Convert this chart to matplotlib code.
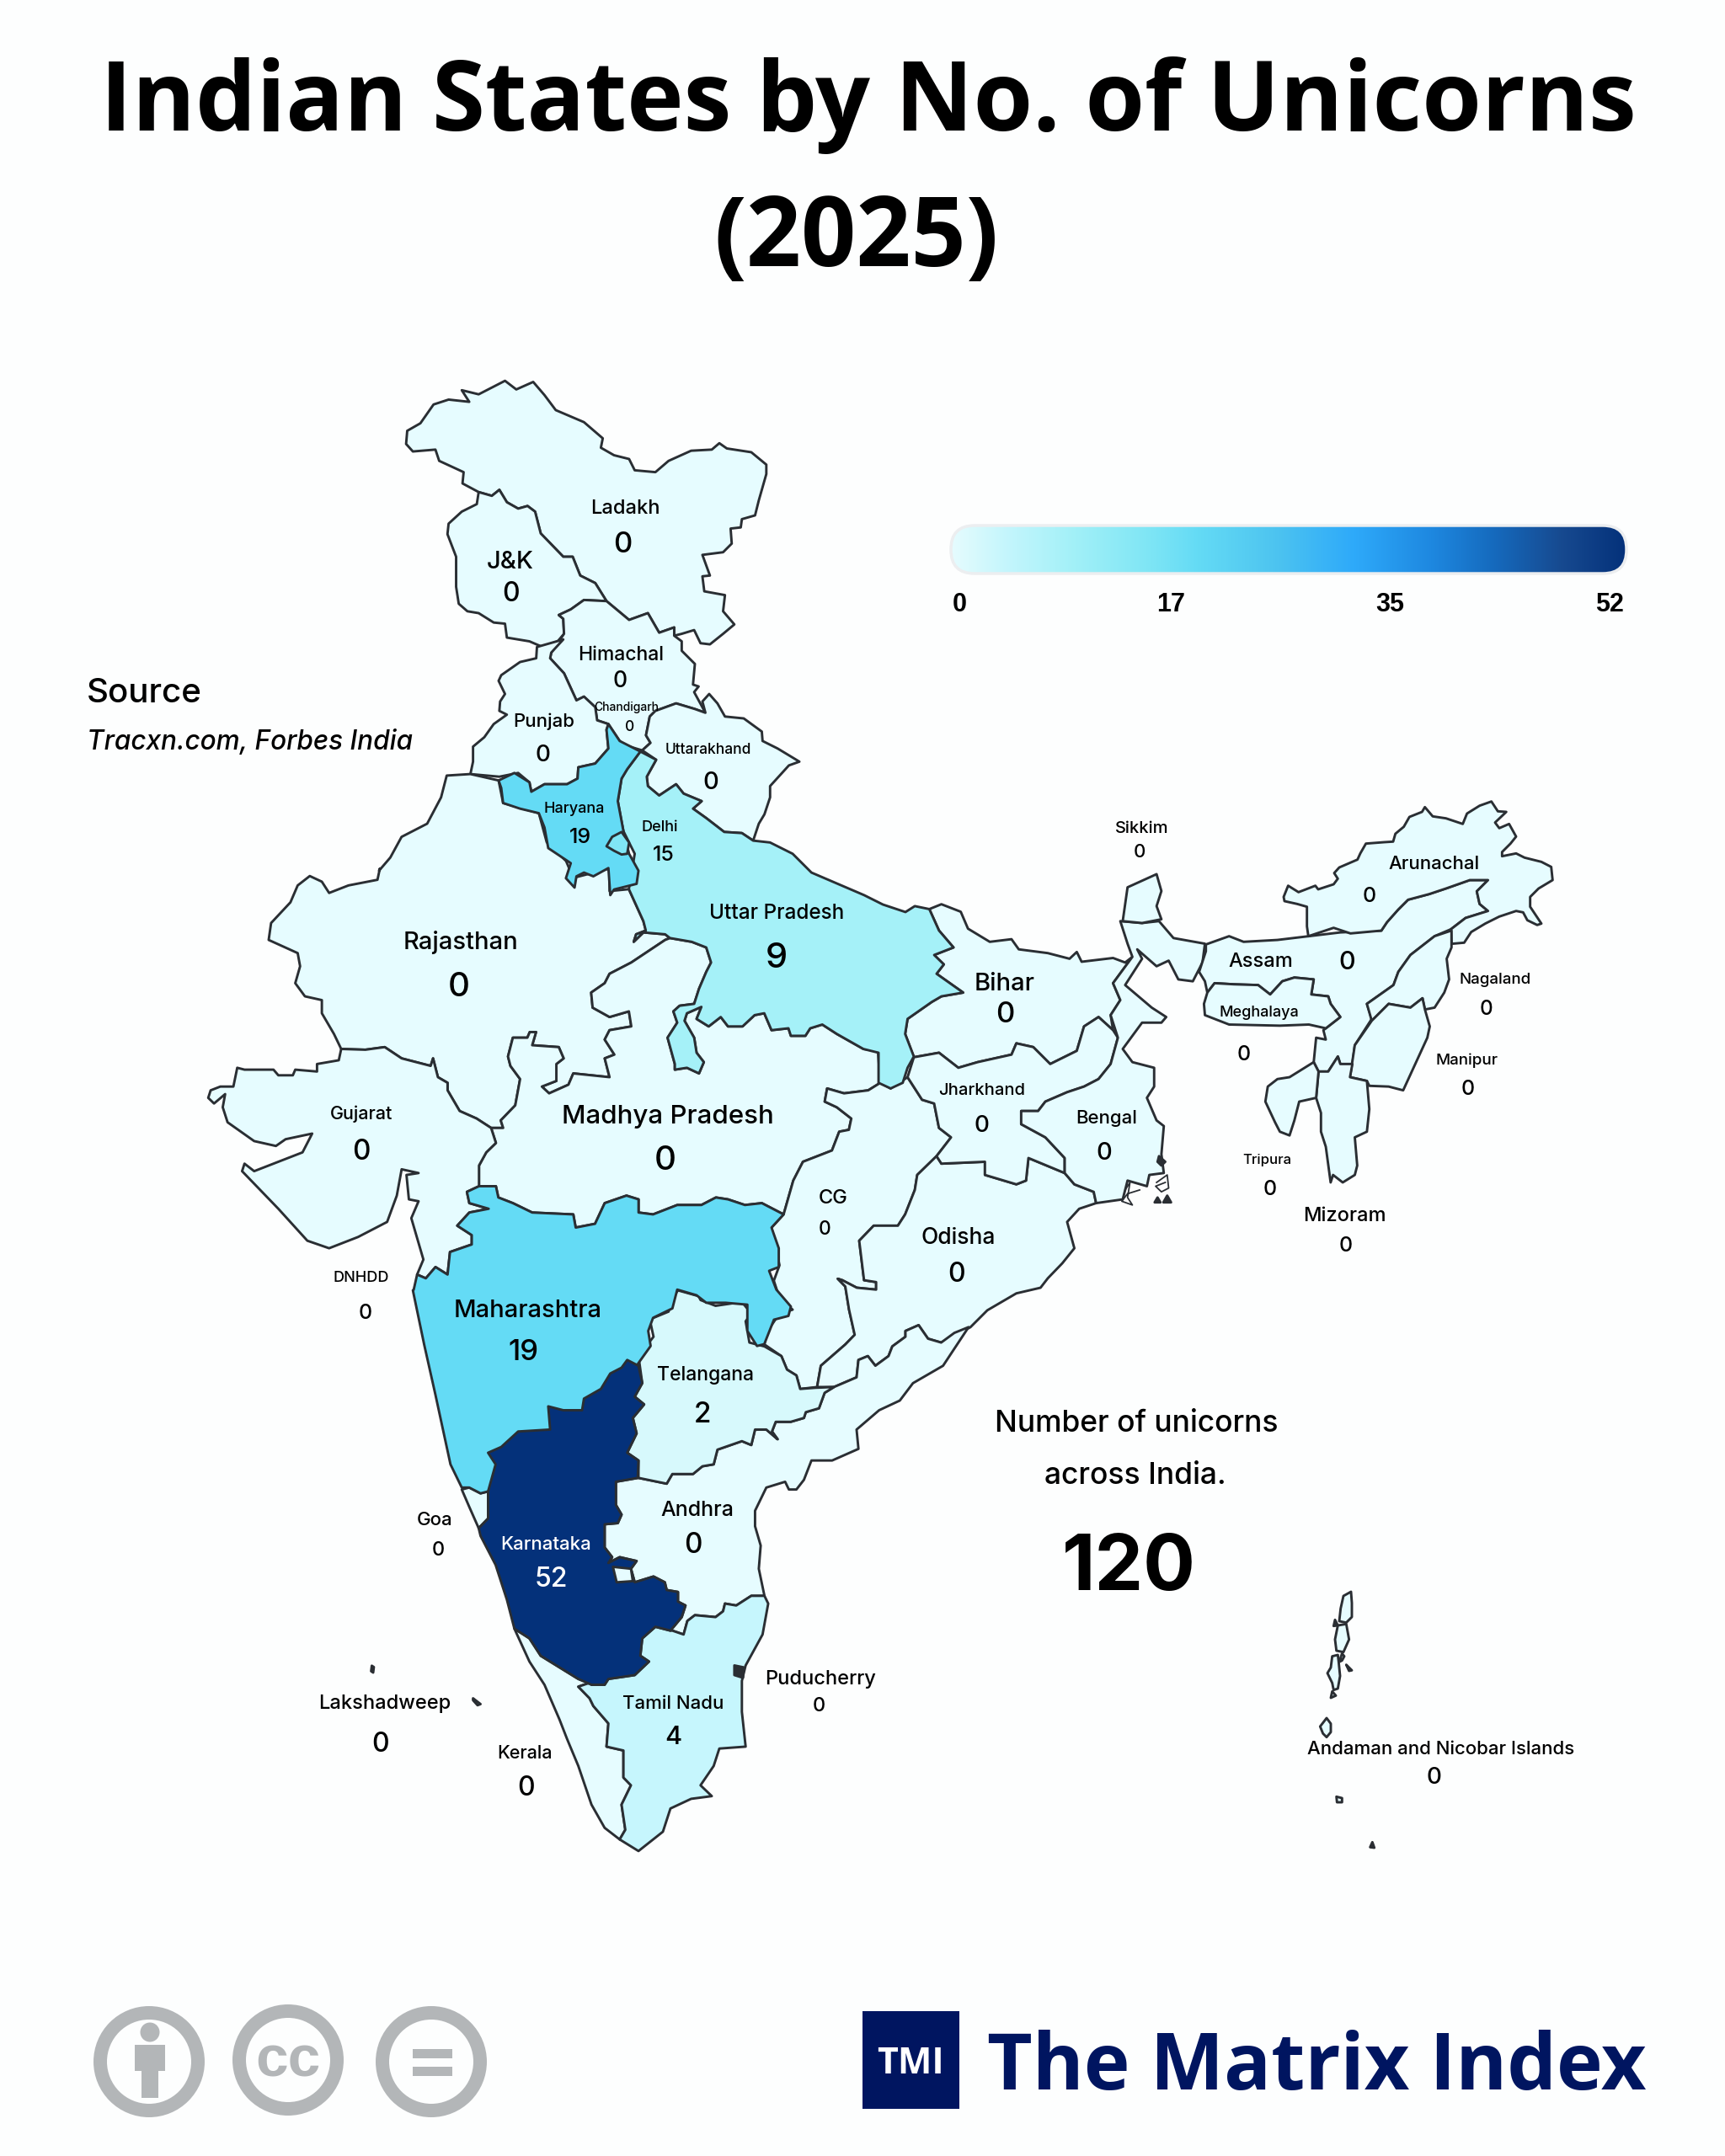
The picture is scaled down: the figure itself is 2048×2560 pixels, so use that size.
import numpy as np
import matplotlib
matplotlib.use("Agg")
import matplotlib.pyplot as plt
from matplotlib.patches import Polygon, Circle, Rectangle, FancyBboxPatch
from matplotlib.colors import LinearSegmentedColormap, Normalize

# ---- reference frames in which outlines were read ----
def frame(x0, y0, sx, sy):
    return lambda pts: [(x0 + x / sx, y0 + y / sy) for x, y in pts]
Z1 = frame(450, 420, 2.24, 2.24)
Z2 = frame(230, 1000, 1.742, 2.24)
Z3 = frame(1000, 1000, 1.742, 2.24)
Z4 = frame(450, 1500, 2.24, 2.178)
Z7 = frame(1500, 930, 3, 3)
Z8 = frame(1530, 1870, 3, 3)
Ov = frame(0, 0, 1255 / 2048, 1255 / 2048)

# ---- data ----
title_lines = ["Indian States by No. of Unicorns", "(2025)"]
states = ["Ladakh","J&K","Himachal","Chandigarh","Punjab","Uttarakhand","Haryana","Delhi","Sikkim","Arunachal",
          "Uttar Pradesh","Rajasthan","Assam","Nagaland","Bihar","Meghalaya","Manipur","Jharkhand","Gujarat","Bengal",
          "Madhya Pradesh","Tripura","CG","Mizoram","Odisha","DNHDD","Maharashtra","Telangana","Andhra","Goa",
          "Karnataka","Puducherry","Tamil Nadu","Lakshadweep","Kerala","Andaman and Nicobar Islands"]
unicorns = [0,0,0,0,0,0,19,15,0,0,9,0,0,0,0,0,0,0,0,0,0,0,0,0,0,0,19,2,0,0,52,0,4,0,0,0]
total_unicorns = 120
scale_ticks = [0, 17, 35, 52]
scale_stops = [(0,"#E6FCFF"),(2,"#D6F9FC"),(4,"#C6F6FD"),(9,"#A5F1F8"),(15,"#80E6F5"),(19,"#64DBF5"),
               (25,"#4DC4F0"),(31,"#2EAAFA"),(37,"#1E88E0"),(42,"#1569BC"),(47,"#174A90"),(52,"#04317A")]

name_xy = [(455,368),(371,407),(452,475),(456,513),(396,523),(515,544),(418,587),(480,600),(831,601),(1043,627),
           (565,663),(335,684),(917,698),(1088,711),(731,714),(916,735),(1067,770),(714,792),(263,809),(805,812),
           (486,811),(922,842),(606,870),(978,883),(697,899),(263,928),(384,952),(513,999),(507,1097),(316,1104),
           (397,1122),(597,1220),(490,1238),(280,1238),(382,1274),(1048,1271)]
name_pt = [17,21,16.5,10,16,12.5,13,13,14.5,16,
           17.5,21,17,13.5,21,13,13.5,14.5,15.5,16,
           22.5,12,17,17,19,13,21,16.5,18,16,
           16,17,16,17,15.5,16]
value_xy = [(453,394),(372,430),(451,493),(458,527),(395,547),(517,567),(422,607),(483,620),(829,618),(996,650),
            (565,695),(334,716),(980,698),(1081,732),(731,736),(905,765),(1068,790),(714,817),(263,836),(803,837),
            (484,842),(924,863),(600,892),(979,904),(696,925),(266,953),(381,982),(511,1027),(504,1122),(319,1126),
            (401,1147),(596,1239),(490,1262),(277,1267),(383,1299),(1043,1291)]
value_pt = [25,23,19,12.5,20,21,18,18,16,18,
            30,29,22,17.5,25,18,18,20,24,21,
            29,18,16.5,18,23,18,25,24,24,17,
            23,17,22,23,23,20]

# ---- state outlines ----
ladakh = Z1([(75,205),(110,185),(145,135),(185,122),(240,128),(220,97),(265,108),(335,72),(365,95),(410,75),(440,110),(470,150),(545,182),(595,225),(590,250),(625,270),(665,280),(680,310),(735,315),(770,285),(830,258),(885,255),(905,238),(925,252),(990,262),(1030,295),(1030,320),(1010,390),(1000,430),(965,440),(962,462),(935,465),(938,505),(915,528),(860,535),(880,590),(860,592),(865,632),(920,642),(915,685),(945,720),(915,745),(880,773),(855,770),(838,735),(805,745),(785,750),(785,728),(745,742),(715,690),(665,708),(605,658),(575,610),(535,590),(515,540),(490,540),(430,478),(415,420),(395,405),(370,412),(340,395),(320,362),(300,378),(265,368),(222,345),(225,315),(160,285),(150,255),(90,260),(72,240)])
jk = Z1([(265,368),(260,400),(220,420),(185,452),(182,480),(205,540),(205,620),(212,665),(235,685),(265,690),(305,715),(335,718),(340,755),(400,765),(435,780),(475,765),(492,745),(490,705),(478,695),(510,680),(545,655),(605,658),(575,610),(535,590),(515,540),(490,540),(430,478),(415,420),(395,405),(370,412),(340,395),(320,362),(300,378)])
himachal = Z1([(492,745),(490,705),(478,695),(510,680),(545,655),(605,658),(665,708),(715,690),(745,742),(785,728),(785,750),(805,765),(805,790),(840,825),(835,880),(850,885),(838,900),(868,955),(840,945),(790,930),(735,950),(720,965),(710,1015),(722,1035),(700,1055),(650,1040),(640,1030),(610,985),(580,975),(575,940),(545,912),(525,922),(492,850),(455,810),(458,795)])
uttarakhand = Z1([(700,1055),(722,1035),(710,1015),(720,965),(735,950),(790,930),(840,945),(868,955),(860,925),(878,905),(900,930),(920,965),(970,970),(1018,1005),(1020,1030),(1060,1050),(1118,1085),(1090,1095),(1040,1150),(1040,1180),(1025,1225),(1010,1250),(995,1295),(965,1275),(918,1272),(870,1235),(835,1210),(858,1190),(810,1170),(790,1145),(745,1175),(715,1150),(712,1125),(737,1080)])
punjab = Z1([(420,780),(418,810),(375,820),(325,855),(318,870),(335,905),(322,925),(320,950),(340,960),(305,985),(280,1020),(250,1045),(250,1085),(243,1118),(320,1125),(370,1115),(400,1140),(405,1165),(440,1145),(500,1145),(528,1130),(530,1100),(575,1090),(610,1050),(605,1000),(610,985),(580,975),(575,940),(545,912),(525,922),(492,850),(455,810),(458,795),(490,760)])
haryana = Z1([(610,985),(640,1030),(695,1058),(660,1105),(645,1130),(635,1190),(650,1270),(665,1330),(690,1375),(685,1410),(625,1425),(615,1440),(610,1368),(570,1390),(545,1380),(525,1390),(520,1420),(497,1395),(510,1355),(450,1315),(440,1260),(425,1222),(375,1210),(330,1195),(325,1155),(318,1135),(360,1115),(400,1140),(405,1165),(440,1145),(500,1145),(528,1130),(530,1100),(575,1090),(610,1050),(605,1000)])
delhi = Z1([(605,1310),(620,1285),(645,1272),(665,1300),(660,1330),(645,1332),(625,1322)])
up = (Z1([(695,1058),(737,1080),(712,1125),(715,1150),(745,1175),(790,1145),(810,1170),(858,1190),(835,1210),(870,1235),(918,1272),(965,1275),(995,1295),(1040,1300),(1100,1330),(1150,1380),(1220,1410),(1290,1440),(1340,1465),(1400,1485)])
      + Z3([(150,170),(180,178),(200,235),(230,280),(190,300),(210,325),(195,350),(250,400),(205,410),(185,425),(135,470),(130,510),(148,570),(135,600),(125,640),(100,655),(75,640),(75,560)])
      + Z2([(1385,550),(1330,510),(1300,485),(1275,495),(1265,515),(1235,515),(1230,495),(1195,500),(1180,455),(1160,460),(1135,490),(1105,490),(1090,465),(1065,490),(1040,470),(1050,438),(1020,455),(1015,475),(1035,520),(1040,560),(1055,585),(1045,615),(1020,600),(995,605),(995,590),(980,520),(1000,480),(992,450),(1005,435),(1035,430),(1045,390),(1060,345),(1070,320),(1060,280),(1030,265),(985,255),(975,245),(930,240),(910,265),(915,245),(935,235),(930,210),(900,125)])
      + Z1([(680,1330),(650,1270),(635,1190),(645,1130),(660,1105)]))
rajasthan = (Z1([(243,1118),(180,1122),(165,1180),(128,1250),(60,1285),(30,1340),(0,1375)])
      + Z2([(385,70),(380,100),(320,115),(280,135),(265,105),(240,90),(215,115),(200,160),(160,215),(155,260),(215,295),(220,330),(210,375),(230,410),(265,420),(265,455),(290,510),(305,550),(355,552),(395,545),(430,575),(490,595),(495,575),(505,625),(525,640),(525,660),(550,715),(585,735),(615,760),(640,760),(635,740),(665,700),(675,630),(655,595),(650,570),(660,520),(690,520),(695,505),(708,505),(700,540),(755,545),(765,575),(750,590),(750,635),(720,650),(735,668),(775,645),(785,615),(860,625),(850,575),(870,565),(850,525),(860,500),(905,490),(900,450),(860,465),(825,440),(822,400),(850,375),(860,350),(905,320),(975,260),(985,255),(975,245),(930,240),(910,265),(915,245),(935,235),(930,210),(900,125),(860,130),(860,70),(785,95),(770,50),(730,0)])
      + Z1([(425,1222),(330,1195),(318,1135)]))
mp = Z2([(985,255),(1030,265),(1060,280),(1070,320),(1060,345),(1045,390),(1035,430),(1005,435),(992,450),(1000,480),(980,520),(995,590),(995,605),(1020,600),(1045,615),(1055,585),(1040,560),(1035,520),(1015,475),(1020,455),(1050,438),(1040,470),(1065,490),(1090,465),(1105,490),(1135,490),(1160,460),(1180,455),(1195,500),(1230,495),(1235,515),(1265,515),(1275,495),(1300,485),(1330,510),(1385,550),(1415,555),(1420,640),(1395,660),(1345,668),(1310,655),(1305,690),(1330,705),(1360,735),(1355,765),(1335,770),(1320,820),(1260,850),(1240,900),(1220,990),(1175,960),(1140,965),(1105,950),(1080,945),(1050,965),(1000,965),(950,990),(920,985),(920,950),(895,940),(850,960),(830,1015),(790,1025),(785,990),(700,985),(660,960),(630,945),(625,915),(590,915),(590,860),(605,825),(625,800),(615,760),(640,760),(635,740),(665,700),(675,630),(655,595),(650,570),(660,520),(690,520),(695,505),(708,505),(700,540),(755,545),(765,575),(750,590),(750,635),(720,650),(735,668),(775,645),(785,615),(860,625),(850,575),(870,565),(850,525),(860,500),(905,490),(900,450),(860,465),(825,440),(822,400),(850,375),(860,350),(905,320),(975,260)])
gujarat = Z2([(305,550),(300,580),(255,590),(255,610),(210,605),(205,620),(175,620),(165,605),(105,605),(90,600),(82,650),(55,650),(35,660),(30,680),(42,695),(65,670),(60,705),(70,745),(125,795),(170,808),(190,790),(245,775),(225,825),(215,830),(175,850),(125,875),(105,855),(100,875),(175,975),(235,1060),(280,1080),(340,1050),(400,1010),(420,940),(430,870),(465,880),(440,885),(445,950),(465,955),(450,1000),(475,1110),(462,1150),(480,1160),(500,1130),(525,1150),(530,1090),(575,1070),(575,1045),(545,1020),(570,985),(610,975),(570,960),(565,930),(590,915),(590,860),(605,825),(625,800),(615,760),(585,735),(550,715),(525,660),(525,640),(505,625),(495,575),(490,595),(430,575),(395,545),(355,552)])
maharashtra = (Z2([(590,915),(625,915),(630,945),(660,960),(700,985),(785,990),(790,1025),(830,1015),(850,960),(895,940),(920,950),(920,985),(950,990),(1000,965),(1050,965),(1080,945),(1105,950),(1140,965),(1175,960),(1220,990),(1195,1025),(1210,1080),(1210,1130),(1190,1140),(1205,1190),(1235,1235),(1230,1260),(1200,1270),(1180,1335),(1165,1340),(1145,1300),(1145,1230),(1100,1225),(1060,1225),(1040,1205),(1000,1190),(990,1240),(950,1265),(940,1300),(945,1340),(920,1385)])
      + Z4([(600,400),(400,560),(290,590),(270,595),(240,580),(220,580),(190,520),(150,340),(120,210),(90,70)])
      + Z2([(455,1190),(462,1150),(480,1160),(500,1130),(525,1150),(530,1090),(575,1070),(575,1045),(545,1020),(570,985),(610,975),(570,960),(565,930)]))
karnataka = Z4([(660,250),(690,265),(700,310),(680,345),(705,365),(675,400),(685,440),(660,490),(690,510),(688,555),(630,565),(630,625),(645,650),(635,672),(600,675),(600,735),(620,760),(610,775),(640,760),(685,770),(670,790),(680,825),(730,810),(760,825),(765,845),(795,850),(795,875),(815,885),(805,915),(775,950),(735,940),(700,970),(695,1015),(718,1030),(680,1065),(610,1075),(600,1090),(565,1090),(530,1075),(480,1045),(430,1015),(400,970),(360,945),(340,870),(310,780),(270,705),(265,685),(290,660),(290,590),(310,520),(290,490),(325,475),(370,435),(455,430),(450,370),(490,380),(540,380),(545,350),(590,325),(615,285),(645,270)])
karnataka_hole = Z4([(622,785),(670,790),(675,822),(632,825)])
goa = Z4([(220,585),(240,580),(270,595),(290,590),(290,660),(265,685),(240,630)])
telangana = Z4([(795,70),(850,85),(855,95),(895,110),(965,100),(990,130),(975,150),(985,205),(1025,215),(1070,240),(1085,275),(1110,290),(1120,325),(1160,322),(1210,320),(1185,335),(1170,375),(1135,385),(1130,400),(1095,410),(1055,410),(1045,435),(1060,455),(1030,430),(1000,430),(990,470),(965,460),(900,482),(890,520),(860,525),(835,545),(780,545),(765,570),(690,555),(690,510),(660,490),(685,440),(675,400),(705,365),(680,345),(700,310),(690,240),(730,190),(720,145),(770,125),(780,90)])
andhra = Z4([(690,555),(765,570),(780,545),(835,545),(860,525),(890,520),(900,482),(965,460),(990,470),(1000,430),(1030,430),(1060,455),(1045,435),(1055,410),(1095,410),(1130,400),(1135,385),(1170,375),(1185,335),(1210,320),(1270,295),(1275,250),(1300,240),(1320,265),(1355,240),(1365,215),(1400,190),(1400,175),(1435,160),(1460,195),(1495,205),(1530,180),(1568,165),(1500,265),(1420,310),(1385,355),(1330,380),(1270,430),(1275,480),(1205,510),(1150,510),(1130,560),(1110,585),(1090,585),(1080,565),(1030,580),(1000,640),(1000,680),(1015,730),(1010,790),(1025,860),(990,860),(950,885),(920,880),(915,900),(895,915),(840,910),(820,925),(810,960),(780,950),(775,950),(805,915),(815,885),(795,875),(795,850),(765,845),(760,825),(730,810),(680,825),(670,790),(685,770),(640,760),(610,775),(620,760),(600,735),(600,675),(635,672),(645,650),(630,625),(630,565)])
chhattisgarh = (Z2([(1220,990),(1240,900),(1260,850),(1320,820),(1335,770),(1355,765),(1360,735),(1330,705),(1305,690),(1310,655),(1345,668),(1395,660),(1420,640)])
      + Z3([(100,655),(135,625),(165,685),(190,695),(200,760),(225,785),(195,835),(155,885),(150,925),(130,990),(115,1020),(65,1020),(35,1060),(45,1165),(70,1170),(70,1190),(30,1185),(0,1165)])
      + Z4([(1220,40),(1240,60),(1250,120),(1265,185),(1240,210),(1175,265),(1165,320),(1120,325),(1110,290),(1085,275),(1070,240),(1025,210),(1030,180),(1065,130),(1100,120),(1065,90),(1050,45),(1065,5)])
      + Z2([(1195,1025)]))
odisha = (Z3([(35,1060),(65,1020),(115,1020),(130,990),(150,925),(155,885),(195,835),(205,855),(295,850),(295,885),(360,910),(380,900),(385,840),(460,880),(480,910),(520,930),(525,960),(490,975),(465,1010),(480,1080),(455,1120),(425,1160),(410,1185),(360,1200),(300,1245),(265,1290)])
      + Z4([(1495,205),(1460,195),(1435,160),(1400,175),(1400,190),(1365,215),(1355,240),(1320,265),(1300,240),(1275,250),(1270,295),(1210,320),(1165,320),(1175,265),(1240,210),(1265,185),(1250,120),(1240,60),(1220,40)])
      + Z3([(0,1165),(30,1185),(70,1190),(70,1170),(45,1165)]))
tamil_nadu = Z4([(1025,860),(1035,880),(1020,960),(975,1040),(965,1080),(965,1160),(975,1250),(905,1255),(890,1300),(855,1350),(885,1378),(830,1385),(775,1410),(755,1470),(690,1520),(640,1490),(655,1465),(645,1400),(670,1350),(650,1330),(650,1260),(605,1250),(610,1190),(570,1145),(560,1125),(530,1095),(560,1085),(565,1090),(600,1090),(610,1075),(680,1065),(718,1030),(695,1015),(700,970),(735,940),(775,950),(780,950),(810,960),(820,925),(840,910),(895,915),(915,900),(920,880),(950,885),(990,860)])
kerala = Z4([(360,945),(400,970),(430,1015),(480,1045),(530,1075),(560,1085),(530,1095),(560,1125),(570,1145),(610,1190),(605,1250),(650,1260),(650,1330),(670,1350),(645,1400),(655,1465),(640,1490),(600,1460),(565,1400),(530,1300),(500,1230),(480,1180),(440,1090),(400,1030)])
puducherry = Z4([(945,1040),(970,1045),(968,1072),(945,1065)])
bihar = Z3([(180,178),(205,165),(245,185),(260,230),(305,265),(350,258),(365,285),(425,295),(470,310),(485,292),(495,318),(560,308),(585,320),(600,305),(560,375),(575,420),(555,460),(560,500),(530,465),(500,490),(485,555),(430,590),(395,545),(360,535),(350,565),(280,585),(240,600),(200,560),(148,572),(130,510),(135,470),(185,425),(205,410),(250,400),(195,350),(210,325),(190,300),(230,280),(200,235)])
jharkhand = Z3([(148,572),(200,560),(240,600),(280,585),(350,565),(360,535),(395,545),(430,590),(485,555),(500,490),(530,465),(560,500),(570,520),(555,590),(530,630),(500,650),(465,665),(420,690),(405,715),(370,715),(370,750),(420,785),(460,840),(460,880),(385,840),(380,900),(360,910),(295,885),(295,850),(205,855),(195,835),(225,785),(200,760),(190,695),(165,685),(135,625)])
bengal = Z3([(370,715),(405,715),(420,690),(465,665),(500,650),(530,630),(555,590),(570,520),(555,460),(575,420),(560,375),(600,305),(590,270),(575,210),(620,215),(655,210),(685,255),(750,270),(745,320),(725,370),(695,365),(675,315),(650,330),(610,285),(620,310),(585,380),(640,440),(670,465),(660,480),(620,480),(600,515),(580,550),(600,585),(645,600),(645,650),(630,680),(650,740),(665,755),(660,830),(665,880),(635,885),(630,915),(590,900),(580,950),(525,960),(520,930),(480,910),(460,880),(460,840),(420,785),(370,750)])
sikkim = Z3([(580,210),(590,120),(650,85),(660,130),(650,170),(660,205),(620,215)])
assam = (Z3([(752,272),(800,250),(830,265),(900,260),(965,250),(1030,240)])
      + Z7([(420,525),(440,495),(480,450),(515,415),(590,395),(650,375),(735,345),(800,345),(760,385),(770,430),(800,455),(720,480),(668,520)])
      + Z3([(1225,250),(1175,300),(1150,345),(1140,380),(1085,430),(1095,470),(1060,540),(1055,590),(1030,590),(1025,570),(1005,610),(985,610),(975,585),(980,520),(1000,525),(995,500),(1030,465),(1010,430),(1005,410),(970,405),(975,365),(935,360),(910,370),(885,405),(860,380),(810,378),(770,375),(755,400),(750,370),(738,345),(752,290)]))
meghalaya = Z3([(755,400),(770,375),(810,378),(860,380),(885,405),(910,370),(935,360),(975,365),(970,405),(1005,410),(1010,430),(1030,465),(1000,495),(965,485),(905,488),(800,485),(750,460),(748,430)])
arunachal = Z7([(72,405),(88,365),(125,388),(185,365),(195,378),(250,360),(265,340),(252,320),(270,300),(335,272),(345,250),(365,215),(430,210),(462,208),(470,180),(500,155),(520,120),(565,102),(575,85),(603,118),(650,125),(710,145),(725,108),(770,80),(812,65),(835,100),(865,102),(825,140),(840,160),(875,145),(900,190),(880,215),(850,245),(850,260),(900,250),(930,265),(990,280),(1025,298),(1030,345),(980,375),(950,405),(950,440),(990,500),(975,505),(940,488),(925,460),(900,455),(840,475),(790,500),(740,530),(715,568),(670,572),(668,520),(720,480),(800,455),(770,430),(760,385),(800,345),(735,345),(650,375),(590,395),(515,415),(480,450),(440,495),(420,525),(310,535),(250,515),(160,545),(155,510),(155,440),(120,430),(75,420)])
nagaland = Z3([(1260,235),(1260,280),(1250,310),(1255,365),(1245,400),(1225,440),(1205,445),(1200,415),(1175,440),(1130,430),(1095,475),(1085,430),(1140,380),(1150,345),(1175,300),(1225,250)])
manipur = Z3([(1205,445),(1215,490),(1210,520),(1185,590),(1160,660),(1130,650),(1090,648),(1085,635),(1050,625),(1060,540),(1095,475),(1130,430),(1175,440),(1200,415)])
mizoram = Z3([(985,610),(1005,610),(1025,570),(1030,590),(1055,590),(1050,625),(1085,635),(1090,710),(1085,770),(1060,785),(1065,860),(1060,885),(1035,905),(1015,885),(1010,905),(1000,810),(990,770),(990,720),(980,680)])
tripura = Z3([(975,585),(985,610),(980,680),(945,690),(935,740),(925,780),(905,770),(895,745),(875,690),(880,650),(900,630),(925,625),(950,605)])
andaman = [Z8([(222,60),(195,75),(185,120),(180,165),(205,170),(225,150),(225,100)]),
           Z8([(175,180),(205,175),(215,230),(195,275),(170,270),(165,230)]),
           Z8([(175,285),(155,290),(150,330),(138,350),(155,385),(160,410),(175,405),(183,360),(178,310)]),
           Z8([(180,310),(190,280),(198,290),(190,305)]),
           Z8([(155,415),(168,430),(150,438)]),
           Z8([(135,510),(150,530),(150,560),(135,578),(122,565),(112,540)]),
           Z8([(170,790),(190,795),(190,810),(172,810)])]
dark_islets = [Z8([(165,160),(175,180),(160,182)]), Z8([(205,320),(225,340),(215,342)]), Z8([(298,952),(305,972),(290,970)]),
               Ov([(270.5,1212),(272,1213),(271.5,1217),(270,1216)]),
               Z3([(655,835),(668,850),(660,860),(652,850)]),
               Z3([(652,945),(658,958),(646,958)]), Z3([(672,940),(680,958),(664,958)])]
lakshadweep = [Z4([(250,1125),(270,1140),(262,1143),(250,1130)])]
delta_lines = [Z3([(585,925),(595,905),(590,945),(600,965),(578,955),(590,935),(615,925)]),
               Z3([(650,905),(672,885),(675,920),(660,930),(648,915),(668,905)])]

pale_layer = [ladakh, jk, himachal, punjab, uttarakhand, rajasthan, mp, gujarat, chhattisgarh, odisha, andhra, kerala,
              goa, bihar, jharkhand, bengal, sikkim, assam, meghalaya, arunachal, nagaland, manipur, mizoram, tripura]
value_layer = [(up, "Uttar Pradesh"), (telangana, "Telangana"), (tamil_nadu, "Tamil Nadu"), (maharashtra, "Maharashtra"),
               (haryana, "Haryana"), (delhi, "Delhi"), (karnataka, "Karnataka")]

# ---- figure ----
plt.rcParams['font.family'] = ['Inter', 'DejaVu Sans']
fig = plt.figure(figsize=(20.48, 25.6), dpi=100, facecolor="#FDFEFE")
ax = fig.add_axes([0, 0, 1, 1])
ax.set_xlim(0, 2048); ax.set_ylim(2560, 0); ax.axis("off")

value_of = dict(zip(states, unicorns))
cmap = LinearSegmentedColormap.from_list("uni", [(v / 52, c) for v, c in scale_stops], N=512)
norm = Normalize(0, 52)
EDGE = "#2A2E33"
def state(poly, color, z=2):
    ax.add_patch(Polygon(poly, closed=True, fc=color, ec=EDGE, lw=2.1, joinstyle="round", zorder=z))

for p in pale_layer:
    state(p, cmap(norm(0)))
for p, name in value_layer:
    state(p, cmap(norm(value_of[name])), 3)
state(karnataka_hole, cmap(norm(0)), 3.5)
for p in andaman + lakshadweep:
    state(p, cmap(norm(0)))
for p in dark_islets + [puducherry]:
    state(p, EDGE, 3.5)
for p in delta_lines:
    ax.plot(*zip(*p), color=EDGE, lw=1.3, zorder=3.5)

# labels
for name, v, nxy, npt, vxy, vpt in zip(states, unicorns, name_xy, name_pt, value_xy, value_pt):
    col = "white" if name == "Karnataka" else "black"
    (nx, ny), (vx, vy) = Ov([nxy])[0], Ov([vxy])[0]
    ax.text(nx, ny + 3, name, fontsize=npt, color=col, ha="center", va="center", zorder=6, fontweight=500)
    ax.text(vx, vy + 4, str(v), fontsize=vpt, color=col, ha="center", va="center", zorder=6, fontweight=500)

# title
ax.text(1031, 125, title_lines[0], fontsize=82.3, fontweight="bold", family="Open Sans", ha="center", va="center")
ax.text(1017, 286, title_lines[1], fontsize=82.3, fontweight="bold", family="Open Sans", ha="center", va="center")

# source and total
ax.text(103, 824, "Source", fontsize=29, va="center", ha="left", fontweight=500)
ax.text(103, 882, "Tracxn.com, Forbes India", fontsize=22.7, style="italic", va="center", ha="left", fontweight=500)
ax.text(1349, 1691, "Number of unicorns", fontsize=25.5, ha="center", va="center", fontweight=500)
ax.text(1348, 1752, "across India.", fontsize=25.5, ha="center", va="center", fontweight=500)
ax.text(1340, 1864, str(total_unicorns), fontsize=66, ha="center", va="center", fontweight="bold")

# colour scale
bar_frame = FancyBboxPatch((1129, 624), 802, 57, boxstyle="round,pad=0,rounding_size=28",
                           fc="none", ec="#ECEEF0", lw=2.5, zorder=5)
ax.add_patch(bar_frame)
img = ax.imshow(np.linspace(0, 52, 512)[None, :], cmap=cmap, norm=norm, extent=(1129, 1931, 681, 624),
                aspect="auto", zorder=4)
img.set_clip_path(bar_frame)
ax.set_xlim(0, 2048); ax.set_ylim(2560, 0)
tick_px = [1139, 1390, 1650, 1911]
for t, x in zip(scale_ticks, tick_px):
    ax.text(x, 718, str(t), fontsize=22, fontweight="bold", family="Liberation Sans", ha="center", va="center")

# licence icons
GREY = "#B3B6B8"
for cx, cy in [(177, 2448), (342, 2446), (512, 2448)]:
    ax.add_patch(Circle((cx, cy), 58, fc="none", ec=GREY, lw=11.5))
ax.add_patch(Circle((178, 2413), 11.5, fc=GREY, ec="none"))
ax.add_patch(Rectangle((160, 2428), 36, 31, fc=GREY, ec="none"))
ax.add_patch(Rectangle((168, 2458), 20, 33, fc=GREY, ec="none"))
ax.text(342, 2447, "cc", fontsize=50, fontweight="bold", family="Liberation Sans", color=GREY, ha="center", va="center")
ax.add_patch(Rectangle((490, 2433), 47, 11, fc=GREY, ec="none"))
ax.add_patch(Rectangle((490, 2454), 47, 11, fc=GREY, ec="none"))

# logo
NAVY = "#001560"
ax.add_patch(Rectangle((1024, 2388), 115, 116, fc=NAVY, ec="none"))
ax.text(1081, 2451, "TMI", fontsize=31, fontweight="bold", family="Open Sans", color="white", ha="center", va="center")
ax.text(1172, 2456, "The Matrix Index", fontsize=66.8, fontweight="bold", family="Open Sans", color=NAVY, ha="left", va="center")

fig.savefig("out.png", dpi=100, facecolor=fig.get_facecolor())
